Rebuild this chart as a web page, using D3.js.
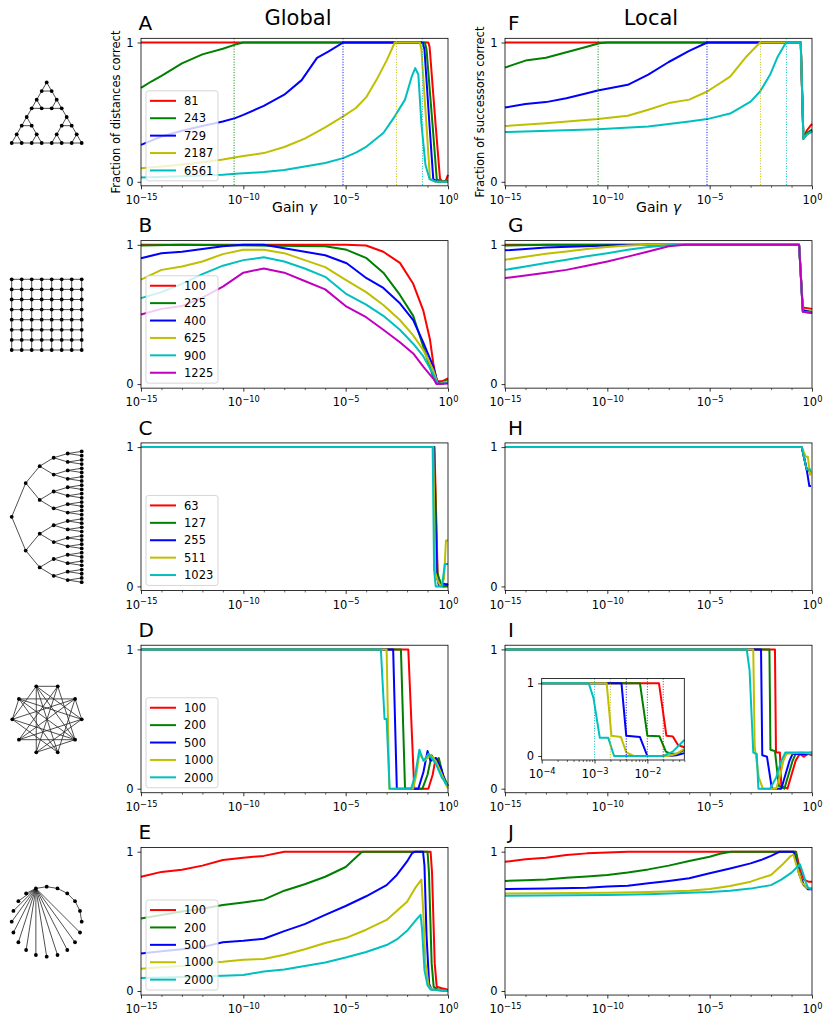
<!DOCTYPE html>
<html>
<head>
<meta charset="utf-8">
<script src="https://cdn.jsdelivr.net/npm/d3@7"></script>
<style>
  body { margin: 0; background: #fff; }
  svg { display: block; font-family: "DejaVu Sans", sans-serif; }
</style>
</head>
<body>
<svg id="fig" width="831" height="1025"></svg>
<script>
// x values are log10(gain), y values are fractions correct

// --- Sierpinski (Hanoi) graphs
const sierSizes = [81, 243, 729, 2187, 6561];
const sierGlobal = [
  [[-15,1],[-0.96,1],[-0.9,0.97],[-0.6,0.4],[-0.39,0.02],[-0.25,0],[-0.1,0.01],[0,0.05]],
  [[-15,0.675],[-14.5,0.72],[-14,0.76],[-13,0.85],[-12,0.915],[-11,0.955],[-10.4,0.985],[-10,1],[-1.13,1],[-1.05,0.95],[-0.75,0.4],[-0.55,0.02],[-0.3,0],[0,0.01]],
  [[-15,0.265],[-14,0.325],[-13,0.366],[-12,0.4],[-11,0.433],[-10.4,0.457],[-10,0.48],[-9,0.545],[-8,0.625],[-7.15,0.73],[-6.4,0.89],[-5.85,0.935],[-5.12,1],[-1.24,1],[-1.15,0.95],[-0.9,0.4],[-0.72,0.02],[-0.5,0],[0,0]],
  [[-15,0.098],[-14,0.11],[-13,0.125],[-12,0.14],[-11,0.16],[-10,0.185],[-9,0.206],[-8,0.25],[-7,0.31],[-6,0.39],[-5.12,0.47],[-4.5,0.53],[-3.98,0.61],[-3.5,0.73],[-3,0.87],[-2.6,1],[-1.37,1],[-1.3,0.95],[-1.05,0.4],[-0.88,0.02],[-0.6,0],[0,0]],
  [[-15,0.03],[-13,0.04],[-11,0.05],[-10.4,0.057],[-9,0.07],[-8,0.085],[-7,0.11],[-6,0.135],[-5.12,0.17],[-4.5,0.21],[-3.98,0.253],[-3.16,0.35],[-2.6,0.47],[-2.1,0.59],[-1.77,0.756],[-1.6,0.816],[-1.45,0.77],[-1.3,0.42],[-1.1,0.12],[-0.9,0.02],[-0.6,0],[0,0]]
];
const sierLocal = [
  [[-15,1],[-0.55,1],[-0.42,0.31],[-0.25,0.37],[0,0.415]],
  [[-15,0.82],[-14,0.87],[-13,0.89],[-12,0.93],[-11,0.97],[-10.4,0.995],[-10,1],[-0.55,1],[-0.42,0.31],[-0.25,0.35],[0,0.375]],
  [[-15,0.533],[-14,0.558],[-13,0.572],[-12,0.6],[-11,0.635],[-10.47,0.655],[-9,0.696],[-8,0.77],[-7,0.86],[-6,0.94],[-5.12,1],[-0.55,1],[-0.42,0.31],[-0.25,0.34],[0,0.365]],
  [[-15,0.4],[-13,0.421],[-10.47,0.45],[-9,0.474],[-8,0.517],[-7,0.565],[-6,0.59],[-5.12,0.648],[-4,0.755],[-3.2,0.9],[-2.54,1],[-0.55,1],[-0.42,0.31],[-0.25,0.34],[0,0.36]],
  [[-15,0.357],[-10.47,0.378],[-8,0.397],[-6,0.433],[-5.12,0.45],[-4,0.49],[-3,0.576],[-2.54,0.648],[-2.05,0.768],[-1.67,0.9],[-1.27,1],[-0.55,1],[-0.42,0.31],[-0.25,0.34],[0,0.36]]
];
const sierDotted = [-10.45, -5.13, -2.52, -1.25];   // for 243, 729, 2187, 6561

// --- square grids
const gridSizes = [100, 225, 400, 625, 900, 1225];
const gridGlobal = [
  [[-15,1],[-5,1],[-4,0.995],[-3.16,0.95],[-2.35,0.87],[-1.7,0.72],[-1.21,0.53],[-0.88,0.32],[-0.72,0.15],[-0.55,0.02],[-0.3,0.02],[0,0.04]],
  [[-15,0.995],[-13,1],[-6,0.99],[-4.95,0.964],[-3.98,0.904],[-3.16,0.8],[-2.35,0.64],[-1.7,0.49],[-1.21,0.27],[-0.72,0.05],[-0.55,0],[-0.3,0.01],[0,0.03]],
  [[-15,0.904],[-14,0.94],[-13,0.95],[-12,0.97],[-11,0.99],[-10,1],[-9,1],[-8,0.976],[-7,0.95],[-6,0.925],[-4.95,0.868],[-3.98,0.76],[-3.16,0.69],[-2.35,0.58],[-1.7,0.46],[-1.21,0.3],[-0.72,0.125],[-0.5,0.01],[-0.3,0],[0,0.02]],
  [[-15,0.75],[-14,0.82],[-13,0.844],[-12,0.88],[-11,0.933],[-10,0.964],[-9,0.965],[-8,0.94],[-7,0.89],[-6,0.84],[-5,0.748],[-4,0.66],[-3.16,0.568],[-2.35,0.46],[-1.7,0.35],[-1.21,0.245],[-0.72,0.1],[-0.5,0],[0,0.02]],
  [[-15,0.617],[-14,0.66],[-13,0.72],[-12,0.79],[-11,0.85],[-10,0.89],[-9,0.91],[-8,0.88],[-7,0.83],[-6,0.77],[-5,0.65],[-4,0.57],[-3.16,0.49],[-2.35,0.39],[-1.7,0.29],[-1.21,0.2],[-0.72,0.07],[-0.5,0],[0,0.01]],
  [[-15,0.5],[-14,0.54],[-13,0.56],[-12,0.62],[-11,0.7],[-10,0.8],[-9,0.83],[-8,0.8],[-7,0.74],[-6,0.68],[-5,0.56],[-4,0.48],[-3.16,0.39],[-2.35,0.3],[-1.7,0.22],[-1.21,0.125],[-0.72,0.04],[-0.55,0],[0,0.005]]
];
const gridLocal = [
  [[-15,1],[-0.63,1],[-0.45,0.55],[0,0.54]],
  [[-15,0.995],[-13,1],[-0.63,1],[-0.45,0.53],[0,0.52]],
  [[-15,0.96],[-13,0.98],[-10,0.995],[-8,1],[-0.63,1],[-0.45,0.53],[0,0.51]],
  [[-15,0.892],[-14,0.915],[-13,0.935],[-12,0.952],[-11,0.97],[-10,0.985],[-9,0.995],[-8,1],[-0.63,1],[-0.45,0.52],[0,0.51]],
  [[-15,0.82],[-14,0.845],[-13,0.87],[-12,0.892],[-11,0.918],[-10,0.94],[-9,0.965],[-8,0.985],[-7,0.997],[-6.5,1],[-0.63,1],[-0.45,0.52],[0,0.51]],
  [[-15,0.761],[-14,0.78],[-13,0.8],[-12,0.82],[-11,0.85],[-10,0.88],[-9,0.915],[-8,0.952],[-7,0.99],[-6.2,1],[-0.63,1],[-0.45,0.52],[0,0.51]]
];

// --- binary trees
const treeSizes = [63, 127, 255, 511, 1023];
const treeGlobal = [
  [[-15,1],[-0.66,1],[-0.5,0.05],[-0.4,0.01],[-0.2,0],[0,0.02]],
  [[-15,1],[-0.68,1],[-0.52,0.1],[-0.42,0.05],[-0.3,0],[0,0]],
  [[-15,1],[-0.7,1],[-0.55,0.08],[-0.45,0.01],[-0.2,0.02],[0,0.01]],
  [[-15,1],[-0.72,1],[-0.62,0.1],[-0.5,0.04],[-0.35,0],[-0.2,0.05],[-0.1,0.33],[0,0.33]],
  [[-15,1],[-0.75,1],[-0.68,0.12],[-0.6,0],[-0.3,0],[-0.15,0.16],[0,0.16]]
];
const treeLocal = [
  [[-15,1],[-0.5,1],[-0.26,0.84],[-0.05,0.82]],
  [[-15,1],[-0.5,1],[-0.26,0.84],[-0.05,0.83]],
  [[-15,1],[-0.5,1],[-0.26,0.84],[-0.13,0.72],[-0.05,0.72]],
  [[-15,1],[-0.5,1],[-0.3,0.93],[-0.2,0.93],[-0.1,0.8],[-0.05,0.82]],
  [[-15,1],[-0.5,1],[-0.26,0.84],[-0.05,0.84]]
];

// --- random graphs
const randSizes = [100, 200, 500, 1000, 2000];
const randGlobal = [
  [[-15,1],[-1.94,1],[-1.65,0],[-0.96,0],[-0.75,0.1],[-0.6,0.22],[-0.45,0.2],[-0.3,0.12],[-0.15,0.05],[0,0.02]],
  [[-15,1],[-2.3,1],[-2.1,0],[-1.25,0],[-1.0,0.1],[-0.8,0.24],[-0.65,0.2],[-0.45,0.22],[-0.25,0.1],[0,0.02]],
  [[-15,1],[-2.68,1],[-2.5,0],[-1.45,0],[-1.2,0.12],[-1.0,0.27],[-0.85,0.2],[-0.6,0.22],[-0.35,0.15],[-0.1,0.03],[0,0.02]],
  [[-15,1],[-3.0,1],[-2.87,0],[-1.7,0],[-1.55,0.1],[-1.4,0.25],[-1.15,0.2],[-0.85,0.24],[-0.6,0.2],[-0.3,0.1],[0,0]],
  [[-15,1],[-3.28,1],[-3.1,0.5],[-3.0,0.5],[-2.85,0],[-1.8,0],[-1.6,0.1],[-1.4,0.28],[-1.2,0.2],[-0.95,0.25],[-0.6,0.18],[-0.3,0.08],[0,0.02]]
];
const randLocal = [
  [[-15,1],[-1.81,1],[-1.76,0.26],[-1.57,0.26],[-1.5,0.02],[-1.2,0],[-1.0,0.1],[-0.8,0.2],[-0.6,0.25],[-0.4,0.23],[-0.2,0.25],[0,0.24]],
  [[-15,1],[-2.08,1],[-2.03,0.28],[-1.81,0.27],[-1.62,0.02],[-1.35,0],[-1.15,0.1],[-0.95,0.2],[-0.8,0.25],[-0.4,0.25],[0,0.26]],
  [[-15,1],[-2.49,1],[-2.43,0.24],[-2.2,0.23],[-1.96,0],[-1.5,0],[-1.3,0.1],[-1.1,0.2],[-0.95,0.25],[-0.5,0.25],[0,0.25]],
  [[-15,1],[-2.87,1],[-2.8,0.3],[-2.6,0.08],[-2.4,0],[-1.75,0],[-1.55,0.1],[-1.4,0.2],[-1.25,0.25],[-0.5,0.26],[0,0.25]],
  [[-15,1],[-3.19,1],[-3.05,0.85],[-2.87,0.26],[-2.7,0.25],[-2.62,0],[-2.05,0],[-1.75,0.08],[-1.5,0.2],[-1.3,0.26],[-0.5,0.26],[0,0.26]]
];
const randInset = [
  [[-4,1],[-1.78,1],[-1.64,0.28],[-1.52,0.27],[-1.42,0.15],[-1.3,0.12]],
  [[-4,1],[-2.14,1],[-2.0,0.28],[-1.77,0.27],[-1.65,0.06],[-1.55,0.03],[-1.45,0.03],[-1.3,0.08]],
  [[-4,1],[-2.49,1],[-2.4,0.28],[-2.14,0.26],[-2.0,0],[-1.6,0],[-1.45,0.01],[-1.3,0.04]],
  [[-4,1],[-2.77,1],[-2.68,0.28],[-2.5,0.26],[-2.4,0.05],[-2.26,0],[-1.6,0],[-1.45,0.03],[-1.3,0.1]],
  [[-4,1],[-3.11,1],[-3.02,0.8],[-2.9,0.25],[-2.74,0.25],[-2.63,0],[-1.7,0],[-1.52,0.06],[-1.3,0.22]]
];
const randInsetDotted = [-1.7, -2.0, -2.4, -2.7, -3.0];   // for 100 ... 2000

// --- lollipop / star graphs
const starSizes = [100, 200, 500, 1000, 2000];
const starGlobal = [
  [[-15,0.82],[-14,0.855],[-13,0.87],[-12,0.9],[-11,0.94],[-10,0.957],[-9,0.97],[-8,1],[-0.85,1],[-0.78,0.85],[-0.65,0.2],[-0.55,0.03],[-0.3,0.02],[0,0.01]],
  [[-15,0.52],[-14,0.546],[-13,0.57],[-12,0.59],[-11,0.617],[-10,0.636],[-9,0.656],[-8,0.72],[-7,0.766],[-6,0.82],[-5,0.89],[-4.2,1],[-1.0,1],[-0.93,0.85],[-0.8,0.2],[-0.7,0.03],[-0.5,0.01],[0,0]],
  [[-15,0.27],[-14,0.285],[-13,0.3],[-12,0.315],[-11,0.35],[-10,0.36],[-9,0.375],[-8,0.43],[-7,0.48],[-6,0.546],[-5,0.61],[-4,0.68],[-3,0.76],[-2.5,0.833],[-2,0.93],[-1.75,0.99],[-1.6,1],[-1.22,1],[-1.15,0.9],[-1.05,0.4],[-0.92,0.05],[-0.8,0.01],[0,0]],
  [[-15,0.16],[-14,0.17],[-13,0.18],[-12,0.2],[-11,0.21],[-10,0.225],[-9,0.229],[-8,0.26],[-7,0.3],[-6,0.344],[-5,0.38],[-4,0.44],[-3,0.51],[-2,0.64],[-1.6,0.74],[-1.3,0.8],[-1.22,0.6],[-1.1,0.2],[-0.95,0.04],[-0.8,0.01],[0,0]],
  [[-15,0.093],[-13,0.1],[-11,0.11],[-10,0.115],[-9,0.14],[-8,0.155],[-7,0.18],[-6,0.205],[-5,0.24],[-4,0.28],[-3,0.33],[-2.5,0.37],[-2,0.432],[-1.53,0.516],[-1.34,0.547],[-1.27,0.45],[-1.15,0.15],[-1.0,0.04],[-0.85,0.01],[0,0]]
];
const starLocal = [
  [[-15,0.928],[-14,0.945],[-13,0.957],[-12,0.976],[-11,0.988],[-10,0.995],[-9,1],[-0.78,1],[-0.6,0.88],[-0.4,0.8],[-0.18,0.785],[0,0.785]],
  [[-15,0.79],[-14,0.795],[-13,0.8],[-12,0.813],[-11,0.822],[-10,0.833],[-9,0.85],[-8,0.873],[-7,0.9],[-6,0.933],[-5,0.964],[-4.5,0.985],[-3.95,1],[-0.8,1],[-0.6,0.83],[-0.4,0.76],[-0.2,0.74],[0,0.74]],
  [[-15,0.732],[-13,0.735],[-11,0.742],[-10,0.75],[-9,0.755],[-8,0.773],[-7,0.79],[-6,0.81],[-5,0.845],[-4,0.88],[-3,0.916],[-2.5,0.94],[-2,0.97],[-1.57,1],[-0.9,1],[-0.65,0.85],[-0.4,0.76],[-0.2,0.73],[0,0.73]],
  [[-15,0.7],[-10,0.705],[-8,0.71],[-6,0.72],[-5,0.732],[-4,0.754],[-3,0.785],[-2.5,0.81],[-2,0.833],[-1.47,0.904],[-1.08,0.964],[-0.91,0.98],[-0.75,0.9],[-0.5,0.78],[-0.25,0.74],[0,0.74]],
  [[-15,0.684],[-10,0.69],[-8,0.695],[-6,0.705],[-5,0.71],[-4,0.72],[-3,0.735],[-2,0.76],[-1.5,0.8],[-1.0,0.85],[-0.59,0.91],[-0.45,0.85],[-0.3,0.78],[-0.18,0.737],[0,0.73]]
];

// --- small graph sketches on the left
const hanoiLevel = 3;
const gridSide = 8;
const treeDepth = 5;
const randCount = 10;
const randEdges = [[0,1],[0,4],[0,7],[1,4],[1,5],[1,6],[1,8],[2,3],[2,6],[2,7],[2,9],[3,8],[3,9],[3,5],[4,5],[4,8],[4,9],[5,9],[6,9],[6,0],[7,3],[8,5],[9,7],[0,3]];
const starCount = 20;
const starChain = 6;   // hub connected along the ring to this node, spokes to the rest

const colors = ["#ff0000", "#008000", "#0000ff", "#bfbf00", "#00bfbf", "#bf00bf"];

const svg = d3.select("#fig");
const colLeft = [141, 505];
const plotW = 307;
const span = 139.3;
const rowOne = r => 42.5 + r * 202.3;   // pixel of y = 1 in each row

const panels = [
  { letter: "A", col: 0, row: 0, data: sierGlobal, sizes: sierSizes, legend: true, dotted: sierDotted },
  { letter: "B", col: 0, row: 1, data: gridGlobal, sizes: gridSizes, legend: true },
  { letter: "C", col: 0, row: 2, data: treeGlobal, sizes: treeSizes, legend: true },
  { letter: "D", col: 0, row: 3, data: randGlobal, sizes: randSizes, legend: true },
  { letter: "E", col: 0, row: 4, data: starGlobal, sizes: starSizes, legend: true },
  { letter: "F", col: 1, row: 0, data: sierLocal, sizes: sierSizes, dotted: sierDotted },
  { letter: "G", col: 1, row: 1, data: gridLocal, sizes: gridSizes },
  { letter: "H", col: 1, row: 2, data: treeLocal, sizes: treeSizes },
  { letter: "I", col: 1, row: 3, data: randLocal, sizes: randSizes, inset: true },
  { letter: "J", col: 1, row: 4, data: starLocal, sizes: starSizes }
];

function powLabel(text, d) {
  const e = Math.round(Math.log10(d));
  text.text(null);
  text.append("tspan").text("10");
  text.append("tspan").attr("dy", "-0.5em").attr("font-size", "72%")
    .text(e === 0 ? "0" : "\u2212" + (-e));
}

function drawAxes(g, x, y, yTop, yBot, majors, minors) {
  const [x0, x1] = x.range();
  const top = y(yTop), bot = y(yBot);

  g.append("g").attr("transform", `translate(0,${bot})`)
    .call(d3.axisBottom(x).tickValues(majors).tickSize(3.5).tickPadding(6.5).tickFormat(() => ""))
    .call(a => a.select(".domain").remove())
    .call(a => a.attr("font-size", 11.5).attr("font-family", null))
    .call(a => a.selectAll("line").attr("stroke-width", 0.8))
    .call(a => a.selectAll(".tick text").each(function (d) { powLabel(d3.select(this), d); }));

  g.append("g").attr("transform", `translate(0,${bot})`)
    .call(d3.axisBottom(x).tickValues(minors).tickSize(2).tickFormat(() => ""))
    .call(a => a.select(".domain").remove())
    .call(a => a.selectAll("line").attr("stroke-width", 0.6));

  g.append("g").attr("transform", `translate(${x0},0)`)
    .call(d3.axisLeft(y).tickValues([0, 1]).tickSize(3.5).tickPadding(4).tickFormat(d3.format("d")))
    .call(a => a.select(".domain").remove())
    .call(a => a.attr("font-size", 11.5).attr("font-family", null))
    .call(a => a.selectAll("line").attr("stroke-width", 0.8));

  g.append("rect")
    .attr("x", x0).attr("y", top).attr("width", x1 - x0).attr("height", bot - top)
    .attr("fill", "none").attr("stroke", "#000").attr("stroke-width", 0.8);
}

function drawCurves(g, x, y, data, top, bot, dotted, dottedColors) {
  const line = d3.line().x(d => x(Math.pow(10, d[0]))).y(d => y(d[1]));
  g.selectAll("path.curve").data(data).join("path")
    .attr("class", "curve")
    .attr("d", line)
    .attr("fill", "none")
    .attr("stroke", (d, i) => colors[i])
    .attr("stroke-width", 2)
    .attr("stroke-linejoin", "round");
  if (dotted) {
    g.selectAll("line.dot").data(dotted).join("line")
      .attr("class", "dot")
      .attr("x1", d => x(Math.pow(10, d))).attr("x2", d => x(Math.pow(10, d)))
      .attr("y1", top).attr("y2", bot)
      .attr("stroke", (d, i) => colors[dottedColors[i]])
      .attr("stroke-width", 1)
      .attr("stroke-dasharray", "1,1.6");
  }
}

function drawLegend(g, x0, yBottom, sizes) {
  const rowH = 17.4, w = 72, h = sizes.length * rowH + 3;
  const top = yBottom - h;
  g.append("rect")
    .attr("x", x0).attr("y", top).attr("width", w).attr("height", h).attr("rx", 2.5)
    .attr("fill", "#fff").attr("fill-opacity", 0.8)
    .attr("stroke", "#cccccc").attr("stroke-width", 0.8);
  const item = g.selectAll("g.item").data(sizes).join("g")
    .attr("class", "item")
    .attr("transform", (d, i) => `translate(${x0},${top + 10 + i * rowH})`);
  item.append("line").attr("x1", 4).attr("x2", 30)
    .attr("stroke", (d, i) => colors[i]).attr("stroke-width", 2);
  item.append("text").attr("x", 38).attr("y", 4.2).attr("font-size", 11.5).text(d => d);
}

const majorDecades = [1e-15, 1e-10, 1e-5, 1];
const minorDecades = d3.range(-14, 0).filter(e => e % 5 !== 0).map(e => Math.pow(10, e));

panels.forEach(p => {
  const left = colLeft[p.col], one = rowOne(p.row);
  const x = d3.scaleLog().domain([1e-15, 1]).range([left, left + plotW]);
  const y = d3.scaleLinear().domain([0, 1]).range([one + span, one]);
  const top = y(1.03), bot = y(-0.029);
  const g = svg.append("g");

  g.append("rect").attr("x", left).attr("y", top).attr("width", plotW).attr("height", bot - top).attr("fill", "#fff");
  drawCurves(g, x, y, p.data, top, bot, p.dotted, [1, 2, 3, 4]);
  drawAxes(g, x, y, 1.03, -0.029, majorDecades, minorDecades);

  g.append("text").attr("x", p.col === 0 ? left - 2.5 : left + 3).attr("y", one - 12.5)
    .attr("font-size", 20).text(p.letter);

  if (p.legend) drawLegend(g, left + 5, bot - 5, p.sizes);

  if (p.row === 0) {
    g.append("text")
      .attr("transform", `translate(${left - 21},${(top + bot) / 2}) rotate(-90)`)
      .attr("text-anchor", "middle").attr("font-size", 11.5)
      .text(p.col === 0 ? "Fraction of distances correct" : "Fraction of successors correct");
    const gl = g.append("text").attr("x", left + plotW / 2).attr("y", bot + 26)
      .attr("text-anchor", "middle").attr("font-size", 14);
    gl.append("tspan").text("Gain ");
    gl.append("tspan").attr("font-style", "italic").text("\u03b3");
  }

  if (p.inset) {
    const ix = d3.scaleLog().domain([1e-4, 0.05]).range([541.7, 684.3]);
    const iy = d3.scaleLinear().domain([0, 1]).range([756, 683.3]);
    const itop = iy(1.065), ibot = iy(-0.055);
    const gi = svg.append("g");
    gi.append("rect").attr("x", 541.7).attr("y", itop).attr("width", 684.3 - 541.7).attr("height", ibot - itop).attr("fill", "#fff");
    drawCurves(gi, ix, iy, randInset, itop, ibot, randInsetDotted, [0, 1, 2, 3, 4]);
    const iminor = ix.ticks().filter(v => Math.abs(Math.log10(v) - Math.round(Math.log10(v))) > 1e-6);
    drawAxes(gi, ix, iy, 1.065, -0.055, [1e-4, 1e-3, 1e-2], iminor);
  }
});

svg.append("text").attr("x", 298).attr("y", 25).attr("text-anchor", "middle").attr("font-size", 21).text("Global");
svg.append("text").attr("x", 651).attr("y", 25).attr("text-anchor", "middle").attr("font-size", 21).text("Local");

// ---------- graph sketches ----------
function drawGraph(nodes, edges) {
  const g = svg.append("g");
  g.selectAll("line").data(edges).join("line")
    .attr("x1", e => nodes[e[0]][0]).attr("y1", e => nodes[e[0]][1])
    .attr("x2", e => nodes[e[1]][0]).attr("y2", e => nodes[e[1]][1])
    .attr("stroke", "#222").attr("stroke-width", 0.8);
  g.selectAll("circle").data(nodes).join("circle")
    .attr("cx", d => d[0]).attr("cy", d => d[1]).attr("r", 1.9).attr("fill", "#000");
}

// Hanoi graph: three copies joined corner to corner
function hanoi(n) {
  const h = Math.sqrt(3) / 2;
  if (n === 1) return { nodes: [[0, 0], [1, 0], [0.5, h]], edges: [[0, 1], [1, 2], [2, 0]], c: [0, 1, 2], L: 1 };
  const s = hanoi(n - 1), off = s.L + 1, m = s.nodes.length;
  const shifts = [[0, 0], [off, 0], [off / 2, off * h]];
  const nodes = [], edges = [];
  shifts.forEach((sh, k) => {
    s.nodes.forEach(p => nodes.push([p[0] + sh[0], p[1] + sh[1]]));
    s.edges.forEach(e => edges.push([e[0] + k * m, e[1] + k * m]));
  });
  edges.push([s.c[1], m + s.c[0]], [s.c[2], 2 * m + s.c[0]], [m + s.c[2], 2 * m + s.c[1]]);
  return { nodes, edges, c: [s.c[0], m + s.c[1], 2 * m + s.c[2]], L: 2 * s.L + 1 };
}
{
  const H = hanoi(hanoiLevel);
  const sx = d3.scaleLinear().domain([0, H.L]).range([11.7, 81.7]);
  const sy = d3.scaleLinear().domain([0, H.L]).range([143, 73]);
  drawGraph(H.nodes.map(p => [sx(p[0]), sy(p[1])]), H.edges);
}

// square grid
{
  const sx = d3.scaleLinear().domain([0, gridSide - 1]).range([11.7, 81.7]);
  const sy = d3.scaleLinear().domain([0, gridSide - 1]).range([279.3, 350]);
  const nodes = [], edges = [];
  d3.range(gridSide).forEach(r => d3.range(gridSide).forEach(c => {
    nodes.push([sx(c), sy(r)]);
    const k = r * gridSide + c;
    if (c < gridSide - 1) edges.push([k, k + 1]);
    if (r < gridSide - 1) edges.push([k, k + gridSide]);
  }));
  drawGraph(nodes, edges);
}

// binary tree
{
  const build = d => d === 0 ? {} : { children: [build(d - 1), build(d - 1)] };
  const root = d3.hierarchy(build(treeDepth));
  d3.cluster().size([135, 70]).separation(() => 1)(root);
  const all = root.descendants();
  const idx = new Map(all.map((d, i) => [d, i]));
  drawGraph(all.map(d => [11.7 + d.y, 449.3 + d.x]),
    root.links().map(l => [idx.get(l.source), idx.get(l.target)]));
}

// random graph on a ring
{
  const nodes = d3.range(randCount).map(k => {
    const p = d3.pointRadial(Math.PI / 2 - k * 2 * Math.PI / randCount, 34.7);
    return [47 + p[0], 719.3 + p[1]];
  });
  drawGraph(nodes, randEdges);
}

// lollipop-like star on a ring
{
  const nodes = d3.range(starCount).map(k => {
    const p = d3.pointRadial((-18 + k * 360 / starCount) * Math.PI / 180, 35);
    return [46.7 + p[0], 921.7 + p[1]];
  });
  const edges = d3.range(1, starCount).map(k => k <= starChain ? [k - 1, k] : [0, k]);
  drawGraph(nodes, edges);
}
</script>
</body>
</html>
